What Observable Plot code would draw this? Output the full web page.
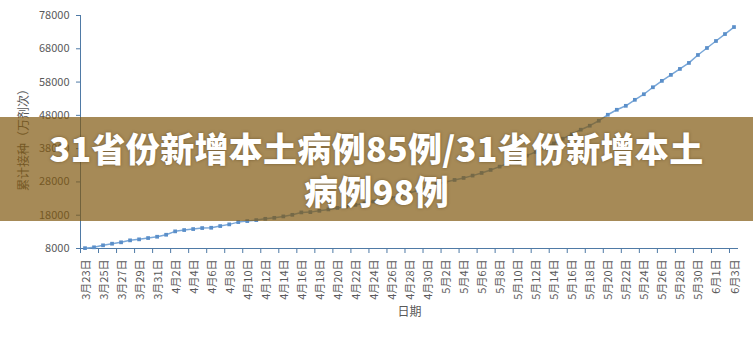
<!DOCTYPE html>
<html>
<head>
<meta charset="utf-8">
<script src="https://cdn.jsdelivr.net/npm/d3@7"></script>
<script src="https://cdn.jsdelivr.net/npm/@observablehq/plot@0.6"></script>
<style>
  html, body { margin: 0; padding: 0; background: #fff; }
  #wrap { position: relative; width: 753px; height: 338px; overflow: hidden; }
  #banner {
    position: absolute; left: 0; top: 117px; width: 753px; height: 104px;
    background: rgba(128, 89, 16, 0.70);
    display: flex; align-items: center; justify-content: center;
    color: #fff; font-family: "Noto Sans CJK SC", sans-serif; font-weight: 900;
    font-size: 34px; line-height: 43px; text-align: center; letter-spacing: 0.3px;
    text-shadow: 0 0 3px rgba(60, 40, 10, 0.5);
  }
</style>
</head>
<body>
<div id="wrap">
  <div id="chart"></div>
  <div id="banner"><div>31省份新增本土病例85例/31省份新增本土<br>病例98例</div></div>
</div>
<script>
const dateLabels = [
  "3月23日","3月24日","3月25日","3月26日","3月27日","3月28日","3月29日","3月30日","3月31日",
  "4月1日","4月2日","4月3日","4月4日","4月5日","4月6日","4月7日","4月8日","4月9日","4月10日",
  "4月11日","4月12日","4月13日","4月14日","4月15日","4月16日","4月17日","4月18日","4月19日","4月20日",
  "4月21日","4月22日","4月23日","4月24日","4月25日","4月26日","4月27日","4月28日","4月29日","4月30日",
  "5月1日","5月2日","5月3日","5月4日","5月5日","5月6日","5月7日","5月8日","5月9日","5月10日",
  "5月11日","5月12日","5月13日","5月14日","5月15日","5月16日","5月17日","5月18日","5月19日","5月20日",
  "5月21日","5月22日","5月23日","5月24日","5月25日","5月26日","5月27日","5月28日","5月29日","5月30日",
  "5月31日","6月1日","6月2日","6月3日"
];
const doses = [
  8100, 8360, 8960, 9440, 9860, 10450, 10750, 11140, 11530,
  12130, 13150, 13540, 13840, 14140, 14230, 14740, 15250, 15930, 16230,
  16530, 16920, 17220, 17640, 18120, 18840, 18930, 19320, 19740, 20200,
  20600, 21100, 21600, 22100, 22600, 23200, 23900, 24700, 25500, 26500,
  27300, 28000, 28600, 29200, 29900, 30700, 31600, 32600, 33700, 34700,
  35900, 37000, 38200, 39600, 41000, 42300, 43690, 44890, 46380, 48180,
  49680, 50870, 52670, 54350, 56440, 58360, 60160, 61950, 63750, 66140,
  68240, 70340, 72430, 74530
];
const yTicks = [8000, 18000, 28000, 38000, 48000, 58000, 68000, 78000];
const yTitle = "累计接种（万剂次）";
const xTitle = "日期";

const idx = dateLabels.map((_, i) => i);
const labeled = idx.filter(i => i % 2 === 0);
const n = dateLabels.length;
const axisColor = "#4f7aa6";
const textColor = "#595959";
const font = "'Noto Sans CJK SC', sans-serif";

const chart = Plot.plot({
  width: 753,
  height: 338,
  marginLeft: 80,
  marginRight: 15,
  marginTop: 15,
  marginBottom: 90,
  style: { fontFamily: font, fontSize: "11px", color: textColor, background: "transparent" },
  x: { type: "linear", domain: [0, n], axis: null },
  y: { domain: [yTicks[0], yTicks[yTicks.length - 1]], axis: null },
  marks: [
    // y axis
    Plot.ruleX([0], { y1: yTicks[0], y2: yTicks[yTicks.length - 1], stroke: axisColor, strokeWidth: 1 }),
    Plot.axisY({ ticks: yTicks, tickSize: 4, tickPadding: 7, stroke: axisColor, fill: textColor, label: null, tickFormat: d => String(d), fontSize: 11 }),
    // x axis
    Plot.ruleY([yTicks[0]], { x1: 0, x2: n, stroke: axisColor, strokeWidth: 1 }),
    Plot.axisX({ ticks: labeled, tickSize: 5, stroke: axisColor, tickFormat: () => "", label: null }),
    Plot.text(labeled, {
      x: i => i + 0.5, y: yTicks[0], text: i => dateLabels[i],
      rotate: -90, textAnchor: "end", lineAnchor: "middle", dy: 11, dx: 1,
      fill: textColor, fontSize: 11
    }),
    // titles
    Plot.text([yTitle], { frameAnchor: "left", textAnchor: "middle", dx: -56, dy: 5, rotate: -90, text: d => d, fill: textColor, fontSize: 12 }),
    Plot.text([xTitle], { frameAnchor: "bottom", dy: 67, text: d => d, fill: textColor, fontSize: 12 }),
    // series
    Plot.line(idx, { x: i => i + 0.5, y: i => doses[i], stroke: "#79a7d8", strokeWidth: 1.5 }),
    Plot.dot(idx, { x: i => i + 0.5, y: i => doses[i], symbol: "square", r: 2.1, fill: "#5b8fc9", stroke: "none" })
  ]
});
document.getElementById("chart").appendChild(chart);
</script>
</body>
</html>
